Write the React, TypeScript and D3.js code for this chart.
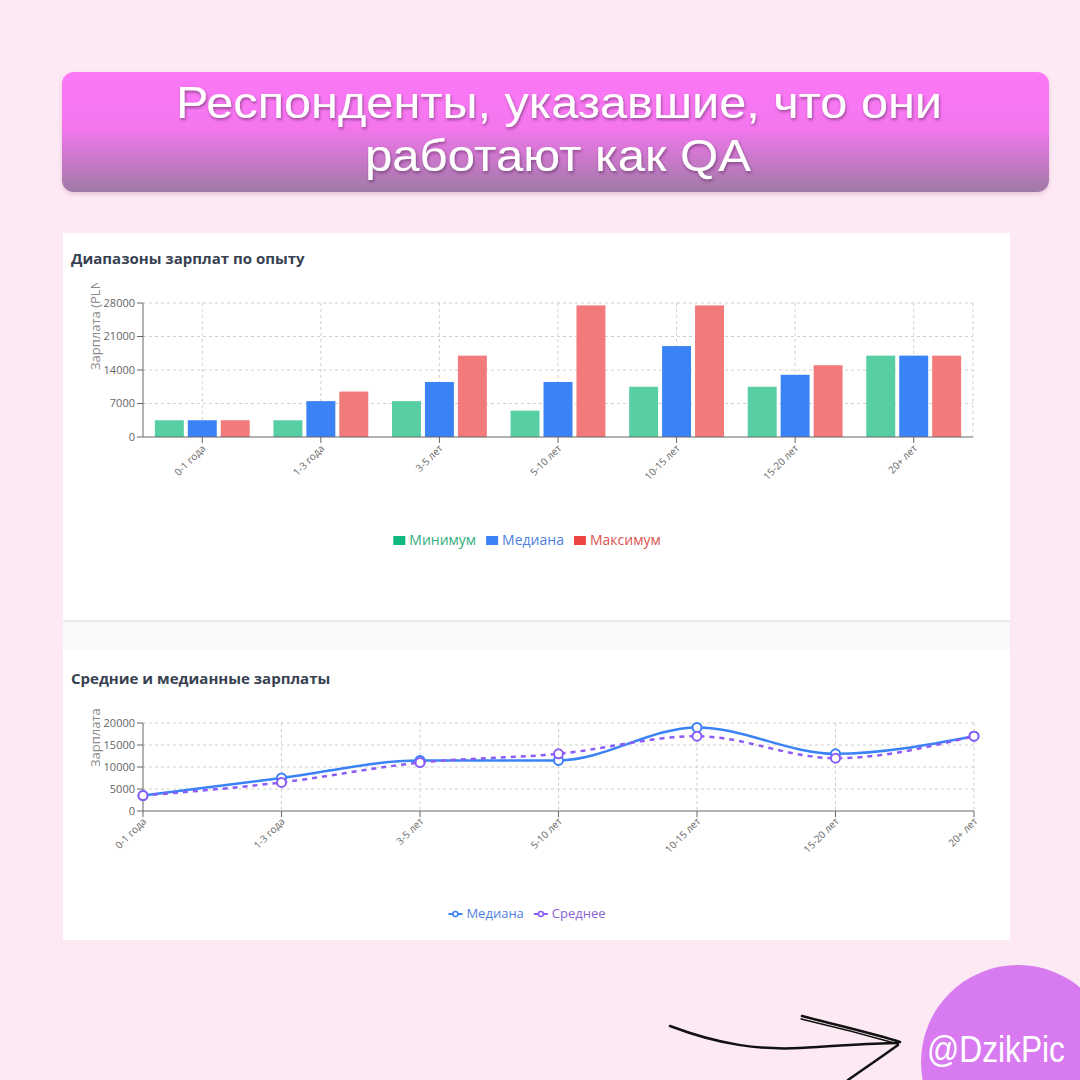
import React, { useMemo } from 'react';
import * as d3 from 'd3';

const categories = ['0-1 года', '1-3 года', '3-5 лет', '5-10 лет', '10-15 лет', '15-20 лет', '20+ лет'];
const minSalary = [3500, 3500, 7500, 5500, 10500, 10500, 17000];
const medianSalary = [3500, 7500, 11500, 11500, 19000, 13000, 17000];
const maxSalary = [3500, 9500, 17000, 27500, 27500, 15000, 17000];
const meanSalary = [3500, 6500, 11000, 13000, 17000, 12000, 17000];
const barTicks = [0, 7000, 14000, 21000, 28000];
const lineTicks = [0, 5000, 10000, 15000, 20000];

const barSeries = [
  { name: 'Минимум', values: minSalary, fill: '#57cfa3', key: '#10b981', text: '#2fae7e' },
  { name: 'Медиана', values: medianSalary, fill: '#3b82f6', key: '#3b82f6', text: '#4f7fe0' },
  { name: 'Максимум', values: maxSalary, fill: '#f27a7a', key: '#ef4444', text: '#d9534f' },
];
const lineSeries = [
  { name: 'Медиана', values: medianSalary, color: '#3b82f6', dash: null, text: '#4f7fe0' },
  { name: 'Среднее', values: meanSalary, color: '#8b5cf6', dash: '5 5', text: '#8a63d2' },
];

const FONT = '"Open Sans", "Noto Sans", sans-serif';

// rough text measuring for centred legends
const measure = (txt: string, size: number) => {
  const c = document.createElement('canvas').getContext('2d');
  if (!c) return txt.length * size * 0.6;
  c.font = `${size}px "Open Sans"`;
  return c.measureText(txt).width;
};

export default function App() {
  // bar chart scales
  const bx = d3.scaleBand<string>().domain(categories).range([143, 973]).padding(0);
  const by = d3.scaleLinear().domain([0, 28000]).range([437, 303]);
  const bw = bx.bandwidth();
  const groupPad = bw * 0.1;
  const barGap = 4;
  const barW = (bw - 2 * groupPad - barGap * (barSeries.length - 1)) / barSeries.length;

  // line chart scales
  const lx = d3.scalePoint<string>().domain(categories).range([143, 974]);
  const ly = d3.scaleLinear().domain([0, 20000]).range([811, 723]);
  const line = d3
    .line<number>()
    .x((_, i) => lx(categories[i]) as number)
    .y((d) => ly(d))
    .curve(d3.curveMonotoneX);

  const legend1 = useMemo(() => {
    const items = barSeries.map((s) => ({ ...s, w: 16 + measure(s.name, 14) }));
    const total = d3.sum(items, (d) => d.w) + 10 * (items.length - 1);
    let x = 527 - total / 2;
    return items.map((d) => {
      const r = { ...d, x };
      x += d.w + 10;
      return r;
    });
  }, []);

  const legend2 = useMemo(() => {
    const items = lineSeries.map((s) => ({ ...s, w: 18 + measure(s.name, 13) }));
    const total = d3.sum(items, (d) => d.w) + 10 * (items.length - 1);
    let x = 527 - total / 2;
    return items.map((d) => {
      const r = { ...d, x };
      x += d.w + 10;
      return r;
    });
  }, []);

  return (
    <div style={{ position: 'fixed', left: 0, top: 0 }}>
      <svg width={1080} height={1080} style={{ display: 'block' }} fontFamily={FONT}>
        <defs>
          <linearGradient id="banner" x1="0" y1="0" x2="0" y2="1">
            <stop offset="0" stopColor="#fb78f6" />
            <stop offset="0.45" stopColor="#f676f0" />
            <stop offset="1" stopColor="#9f7aa6" />
          </linearGradient>
          <filter id="tshadow" x="-10%" y="-30%" width="120%" height="160%">
            <feDropShadow dx="1" dy="2" stdDeviation="1.5" floodColor="#5a2b5a" floodOpacity="0.6" />
          </filter>
          <filter id="bshadow" x="-5%" y="-20%" width="110%" height="150%">
            <feDropShadow dx="0" dy="2" stdDeviation="2" floodColor="#b27aa8" floodOpacity="0.35" />
          </filter>
          <clipPath id="ylabClip">
            <rect x={60} y={283} width={60} height={200} />
          </clipPath>
        </defs>

        <rect width={1080} height={1080} fill="#fde9f3" />

        {/* banner */}
        <rect x={62} y={72} width={987} height={120} rx={12} fill="url(#banner)" filter="url(#bshadow)" />
        <g fill="#ffffff" fontFamily='"Liberation Sans", Arial, sans-serif' fontSize={44} textAnchor="middle" filter="url(#tshadow)">
          <text x={559} y={118} textLength={766} lengthAdjust="spacingAndGlyphs">
            Респонденты, указавшие, что они
          </text>
          <text x={558} y={171} textLength={386} lengthAdjust="spacingAndGlyphs">
            работают как QA
          </text>
        </g>

        {/* panels */}
        <rect x={63} y={233} width={947} height={388} fill="#ffffff" />
        <rect x={63} y={621} width={947} height={29} fill="#f8f9fb" />
        <rect x={63} y={620} width={947} height={2} fill="#e9eaee" />
        <rect x={63} y={650} width={947} height={290} fill="#ffffff" />

        {/* chart 1 */}
        <text x={71} y={264} fontSize={15} fontWeight={700} fill="#374151">
          Диапазоны зарплат по опыту
        </text>
        <g stroke="#cfcfcf" strokeDasharray="3 3" strokeWidth={1}>
          {barTicks.slice(1).map((t) => (
            <line key={t} x1={143} x2={973} y1={by(t)} y2={by(t)} />
          ))}
          {categories.map((c) => (
            <line key={c} x1={(bx(c) as number) + bw / 2} x2={(bx(c) as number) + bw / 2} y1={303} y2={437} />
          ))}
          <line x1={973} x2={973} y1={303} y2={437} />
        </g>
        {categories.map((c, i) =>
          barSeries.map((s, j) => (
            <rect
              key={c + s.name}
              x={(bx(c) as number) + groupPad + j * (barW + barGap)}
              y={by(s.values[i])}
              width={barW}
              height={437 - by(s.values[i])}
              fill={s.fill}
            />
          ))
        )}
        <line x1={143} x2={143} y1={303} y2={437} stroke="#666" />
        <line x1={143} x2={973} y1={437} y2={437} stroke="#666" />
        {barTicks.map((t) => (
          <g key={t}>
            <line x1={137} x2={143} y1={by(t)} y2={by(t)} stroke="#666" />
            <text x={135} y={by(t)} dy="0.35em" textAnchor="end" fontSize={11} fill="#666">
              {t}
            </text>
          </g>
        ))}
        {categories.map((c) => {
          const cx = (bx(c) as number) + bw / 2;
          return (
            <g key={c}>
              <line x1={cx} x2={cx} y1={437} y2={443} stroke="#666" />
              <text transform={`translate(${cx + 4},${449}) rotate(-45)`} textAnchor="end" fontSize={10} fill="#666">
                {c}
              </text>
            </g>
          );
        })}
        <g clipPath="url(#ylabClip)">
          <text transform={`translate(100,${(303 + 437) / 2}) rotate(-90)`} fontSize={13} fill="#8a8a8a">
            Зарплата (PLN)
          </text>
        </g>
        {legend1.map((d) => (
          <g key={d.name} transform={`translate(${d.x},545)`}>
            <rect x={0} y={-9} width={12} height={9} fill={d.key} />
            <text x={16} y={0} fontSize={14} fill={d.text}>
              {d.name}
            </text>
          </g>
        ))}

        {/* chart 2 */}
        <text x={71} y={684} fontSize={15} fontWeight={700} fill="#374151">
          Средние и медианные зарплаты
        </text>
        <g stroke="#cfcfcf" strokeDasharray="3 3" strokeWidth={1}>
          {lineTicks.slice(1).map((t) => (
            <line key={t} x1={143} x2={974} y1={ly(t)} y2={ly(t)} />
          ))}
          {categories.slice(1).map((c) => (
            <line key={c} x1={lx(c)} x2={lx(c)} y1={723} y2={811} />
          ))}
        </g>
        <line x1={143} x2={143} y1={723} y2={811} stroke="#666" />
        <line x1={143} x2={974} y1={811} y2={811} stroke="#666" />
        {lineTicks.map((t) => (
          <g key={t}>
            <line x1={137} x2={143} y1={ly(t)} y2={ly(t)} stroke="#666" />
            <text x={135} y={ly(t)} dy="0.35em" textAnchor="end" fontSize={11} fill="#666">
              {t}
            </text>
          </g>
        ))}
        {categories.map((c) => {
          const cx = lx(c) as number;
          return (
            <g key={c}>
              <line x1={cx} x2={cx} y1={811} y2={817} stroke="#666" />
              <text transform={`translate(${cx + 4},${822}) rotate(-45)`} textAnchor="end" fontSize={10} fill="#666">
                {c}
              </text>
            </g>
          );
        })}
        <text transform={`translate(100,${(723 + 811) / 2}) rotate(-90)`} fontSize={13} fill="#8a8a8a">
          Зарплата
        </text>
        {lineSeries.map((s) => (
          <g key={s.name}>
            <path
              d={line(s.values) || ''}
              fill="none"
              stroke={s.color}
              strokeWidth={2.5}
              strokeDasharray={s.dash || undefined}
            />
            {s.values.map((v, i) => (
              <circle
                key={i}
                cx={lx(categories[i])}
                cy={ly(v)}
                r={4.5}
                fill="#ffffff"
                stroke={s.color}
                strokeWidth={2}
              />
            ))}
          </g>
        ))}
        {legend2.map((d) => (
          <g key={d.name} transform={`translate(${d.x},918)`}>
            <line x1={0} x2={14} y1={-4} y2={-4} stroke={d.color} strokeWidth={2} />
            <circle cx={7} cy={-4} r={2.5} fill="#fff" stroke={d.color} strokeWidth={1.5} />
            <text x={18} y={0} fontSize={13} fill={d.text}>
              {d.name}
            </text>
          </g>
        ))}

        {/* signature */}
        <circle cx={1018} cy={1062} r={97} fill="#d97bf0" />
        <text
          x={927}
          y={1062}
          fontSize={36}
          fill="#ffffff"
          fontFamily='"Liberation Sans", sans-serif'
          textLength={138}
          lengthAdjust="spacingAndGlyphs"
        >
          @DzikPic
        </text>
        <g fill="none" stroke="#111" strokeLinecap="round" strokeWidth={2.5}>
          <path d="M670,1026 C720,1045 760,1050 800,1048 C840,1046 870,1043 898,1043" />
          <path d="M802,1016 C840,1026 875,1034 900,1042" />
          <path d="M801,1019 C840,1028 870,1036 898,1044" strokeWidth={1.5} />
          <path d="M898,1045 C880,1058 865,1068 848,1080" />
        </g>
      </svg>
    </div>
  );
}
